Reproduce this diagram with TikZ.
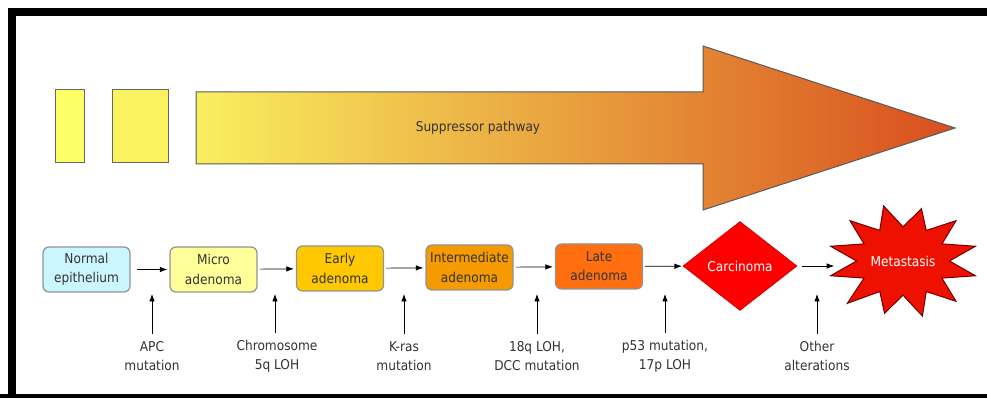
\documentclass[tikz,border=0pt]{standalone}
\usepackage{fontspec}
\setmainfont{DejaVu Sans Condensed}
\usetikzlibrary{shapes, arrows.meta, positioning, shapes.geometric}

\definecolor{textgrey}{HTML}{333333}
\definecolor{normalblue}{HTML}{CCF6FF}
\definecolor{microyellow}{HTML}{FFFF99}
\definecolor{earlygold}{HTML}{FFC800}
\definecolor{interorange}{HTML}{F59A00}
\definecolor{lateorange}{HTML}{FF6F0F}
\definecolor{carcred}{HTML}{FF0000}
\definecolor{metared}{HTML}{EE1100}
\definecolor{bandA}{HTML}{FFFF66}
\definecolor{bandB}{HTML}{FAF25E}
\definecolor{pathstart}{HTML}{F9EF5E}
\definecolor{pathmid}{HTML}{EAA848}
\definecolor{pathend}{HTML}{D84F1E}

\begin{document}
\begin{tikzpicture}[
	x=0.2mm, y=-0.2mm,
	>={Latex[length=1.5mm,width=1.1mm]},
	StageNode/.style={rectangle, draw=gray!85, line width=0.25mm,
		rounded corners=1.2mm, minimum width=17.4mm, minimum height=9mm,
		text width=17.4mm, align=center, inner sep=0pt, text=textgrey,
		font=\fontsize{7.7}{11}\selectfont},
	CauseNode/.style={align=center, inner sep=1pt, text=textgrey,
		font=\fontsize{7.7}{11}\selectfont},
	BandNode/.style={rectangle, draw=gray!80!black, line width=0.2mm,
		minimum height=14.6mm, inner sep=0pt}
	]

\useasboundingbox (0,0) rectangle (987,398);

% frame
\draw [line width=1.6mm] (12,410) -- (12,12) -- (1000,12);
\draw [line width=1.6mm] (0,398) -- (1000,398);

% suppressor pathway
\node [BandNode, fill=bandA, minimum width=5.8mm] (bandA) at (69.5,126.5) {};
\node [BandNode, fill=bandB, minimum width=11.2mm] (bandB) at (140,126.5) {};
\shadedraw [left color=pathstart, middle color=pathmid, right color=pathend,
	draw=gray!70!black, line width=0.2mm]
	(196,92) -- (703,92) -- (703,46) -- (955,128) -- (703,210)
	-- (703,164) -- (196,164) -- cycle;
\node [CauseNode] (path) at (478,128) {Suppressor pathway};

% stages
\node [StageNode, fill=normalblue] (normal) at (86.5,269.5) {Normal\\epithelium};
\node [StageNode, fill=microyellow] (micro) at (213.5,269.5) {Micro\\adenoma};
\node [StageNode, fill=earlygold] (early) at (340,268.5) {Early\\adenoma};
\node [StageNode, fill=interorange] (inter) at (469.5,267.5) {Intermediate\\adenoma};
\node [StageNode, fill=lateorange] (late) at (599,266.5) {Late\\adenoma};
\node [diamond, draw=red!80!black, fill=carcred, aspect=1.28,
	minimum width=22.8mm, minimum height=17.8mm, inner sep=0pt,
	text=white, font=\fontsize{7.7}{11}\selectfont] (carc) at (740,266) {Carcinoma};

% metastasis burst
\filldraw [fill=metared, draw=red!45!black, line width=0.2mm,
	shift={(903,261)}, xscale=75, yscale=57]
	(15:1) \foreach \a/\r in {30/0.6, 45/1, 60/0.62, 75/1, 90/0.6, 105/0.95,
		120/0.62, 135/1.05, 150/0.6, 165/1, 180/0.62, 195/1, 210/0.6, 225/1,
		240/0.62, 255/1, 270/0.6, 285/0.95, 300/0.62, 315/1, 330/0.6, 345/1,
		360/0.62} { -- (\a:\r) } -- cycle;
\node [ellipse, minimum width=27mm, minimum height=20mm, inner sep=0pt,
	text=white, font=\fontsize{7.7}{11}\selectfont] (meta) at (903,261) {Metastasis};

\draw [->, shorten <=1.2mm, shorten >=0.4mm] (normal) -- (micro);
\draw [->, shorten <=0.4mm, shorten >=0.4mm] (micro) -- (early);
\draw [->, shorten <=0.4mm, shorten >=0.4mm] (early) -- (inter);
\draw [->, shorten <=0.4mm, shorten >=0.4mm] (inter) -- (late);
\draw [->, shorten <=0.4mm, shorten >=0.2mm] (late) -- (carc);
\draw [->, shorten <=1mm, shorten >=0.2mm] (carc) -- (carc -| meta.west);

% alterations
\node [CauseNode] (apc) at (152,356) {APC\\mutation};
\node [CauseNode] (chrom) at (277,356) {Chromosome\\5q LOH};
\node [CauseNode] (kras) at (404,356) {K-ras\\mutation};
\node [CauseNode] (dcc) at (537,356) {18q LOH,\\DCC mutation};
\node [CauseNode] (p53) at (665,356) {p53 mutation,\\17p LOH};
\node [CauseNode] (other) at (817,356) {Other\\alterations};

\coordinate (apcTip) at (152,294);
\coordinate (chromTip) at (275,294);
\coordinate (krasTip) at (404,294);
\coordinate (dccTip) at (537,294);
\coordinate (p53Tip) at (665,294);
\coordinate (otherTip) at (817,294);

\draw [->, shorten <=1mm] (apc) -- (apcTip);
\draw [->, shorten <=1mm] (chrom.north -| chromTip) -- (chromTip);
\draw [->, shorten <=1mm] (kras) -- (krasTip);
\draw [->, shorten <=1mm] (dcc) -- (dccTip);
\draw [->, shorten <=1mm] (p53) -- (p53Tip);
\draw [->, shorten <=1mm] (other) -- (otherTip);

\end{tikzpicture}
\end{document}
